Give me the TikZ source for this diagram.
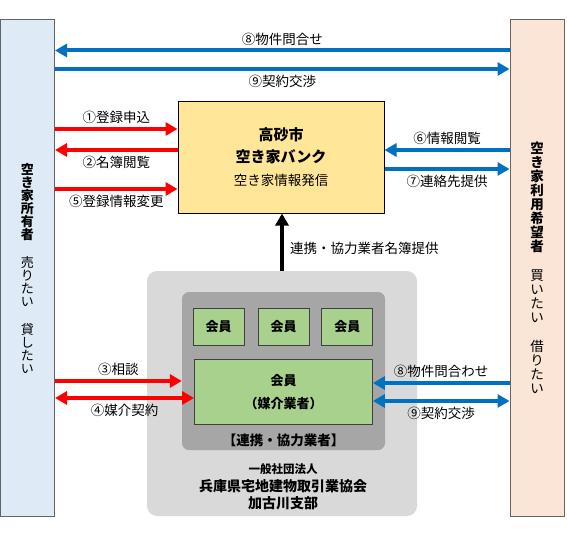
\documentclass[tikz,border=0pt]{standalone}
\usepackage{fontspec}
\setmainfont{Noto Sans CJK JP}
\usetikzlibrary{arrows.meta,positioning}

\definecolor{ownerblue}{RGB}{222,235,247}
\definecolor{userpeach}{RGB}{251,229,214}
\definecolor{bankyellow}{RGB}{255,230,153}
\definecolor{outergray}{RGB}{217,217,217}
\definecolor{innergray}{RGB}{166,166,166}
\definecolor{memgreen}{RGB}{169,209,142}
\definecolor{arrred}{RGB}{255,0,0}
\definecolor{arrblue}{RGB}{0,112,192}
\definecolor{colborder}{RGB}{100,100,100}

\tikzset{
  colbox/.style={draw=colborder,line width=1pt,minimum width=54pt,minimum height=496pt,align=center,text width=30pt,inner sep=0pt},
  member/.style={draw=black!75,line width=0.8pt,fill=memgreen,minimum height=37pt,align=center,font=\bfseries\fontsize{13}{23}\selectfont},
  lbl/.style={font=\fontsize{13.5}{15}\selectfont,inner sep=2pt},
  redarr/.style={draw=arrred,line width=4pt,-{Triangle[length=12pt,width=13pt]}},
  bluearr/.style={draw=arrblue,line width=4pt,-{Triangle[length=12pt,width=13pt]}},
  blackarr/.style={draw=black,line width=4pt,-{Triangle[length=12pt,width=13pt]}}
}

\begin{document}
\begin{tikzpicture}[x=1pt,y=-1pt]
    \useasboundingbox (0,0) rectangle (567,535);

    \node[colbox,fill=ownerblue,font=\fontsize{13}{13}\selectfont] (owner) at (27.5,268)
        {\bfseries 空\\き\\家\\所\\有\\者\\[15pt]\mdseries 売\\り\\た\\い\\[15pt]貸\\し\\た\\い};
    \node[colbox,fill=userpeach,font=\fontsize{13.5}{14}\selectfont] (user) at (537,268)
        {\bfseries 空\\き\\家\\利\\用\\希\\望\\者\\[15pt]\mdseries 買\\い\\た\\い\\[15pt]借\\り\\た\\い};

    \node[draw=black,line width=1pt,fill=bankyellow,minimum width=206pt,minimum height=112pt,
          align=center,font=\fontsize{13.5}{22.5}\selectfont] (bank) at (281,157)
        {{\bfseries\fontsize{15}{22.5}\selectfont 高砂市}\\{\bfseries\fontsize{15}{22.5}\selectfont 空き家バンク}\\空き家情報発信};

    \node[fill=outergray,rounded corners=10pt,minimum width=270pt,minimum height=245pt] (assoc) at (282,393.5) {};
    \node[fill=innergray,rounded corners=7pt,minimum width=203pt,minimum height=158pt] (partners) at (283.5,371) {};
    \node[member,minimum width=51pt] (m2) at (283.5,326.5) {会員};
    \node[member,minimum width=51pt,left=13pt of m2] (m1) {会員};
    \node[member,minimum width=51pt,right=12pt of m2] (m3) {会員};
    \node[member,minimum width=178pt,minimum height=65pt,below=14pt of m2] (broker) {会員\\（媒介業者）};
    \node[above,inner sep=3pt,font=\bfseries\fontsize{13.5}{15}\selectfont] (partnerlabel) at (partners.south) {【連携・協力業者】};
    \node[align=center,font=\bfseries\fontsize{14}{17.5}\selectfont] (assocname) at (283,487)
        {{\fontsize{11.5}{17.5}\selectfont 一般社団法人}\\兵庫県宅地建物取引業協会\\加古川支部};

    \draw[bluearr] (user.west |- 0,50.5) -- (owner.east |- 0,50.5) node[lbl,midway,above=1pt] {⑧物件問合せ};
    \draw[bluearr] (owner.east |- 0,69) -- (user.west |- 0,69) node[lbl,midway,below=2pt] {⑨契約交渉};

    \draw[redarr] (owner.east |- 0,129) -- (bank.west |- 0,129) node[lbl,midway,above=1pt] {①登録申込};
    \draw[redarr] (bank.west |- 0,150) -- (owner.east |- 0,150) node[lbl,midway,below=2pt] {②名簿閲覧};
    \draw[redarr] (owner.east |- 0,189) -- (bank.west |- 0,189) node[lbl,midway,below=2pt] {⑤登録情報変更};

    \draw[bluearr] (user.west |- 0,150) -- (bank.east |- 0,150) node[lbl,midway,above=1pt] {⑥情報閲覧};
    \draw[bluearr] (bank.east |- 0,169) -- (user.west |- 0,169) node[lbl,midway,below=2pt] {⑦連絡先提供};

    \draw[blackarr] (assoc.north) -- (assoc.north |- bank.south) node[lbl,pos=0.4,right=4pt] {連携・協力業者名簿提供};

    \draw[redarr] (owner.east |- 0,381) -- (partners.west |- 0,381) node[lbl,midway,above=1pt] {③相談};
    \draw[redarr,{Triangle[length=12pt,width=13pt]}-{Triangle[length=12pt,width=13pt]}] (owner.east |- 0,398) -- (broker.west |- 0,398) node[lbl,midway,below=2pt] {④媒介契約};

    \draw[bluearr] (user.west |- 0,383) -- (broker.east |- 0,383) node[lbl,midway,above=1pt] {⑧物件問合わせ};
    \draw[bluearr,{Triangle[length=12pt,width=13pt]}-{Triangle[length=12pt,width=13pt]}] (broker.east |- 0,401) -- (user.west |- 0,401) node[lbl,midway,below=2pt] {⑨契約交渉};
\end{tikzpicture}
\end{document}
